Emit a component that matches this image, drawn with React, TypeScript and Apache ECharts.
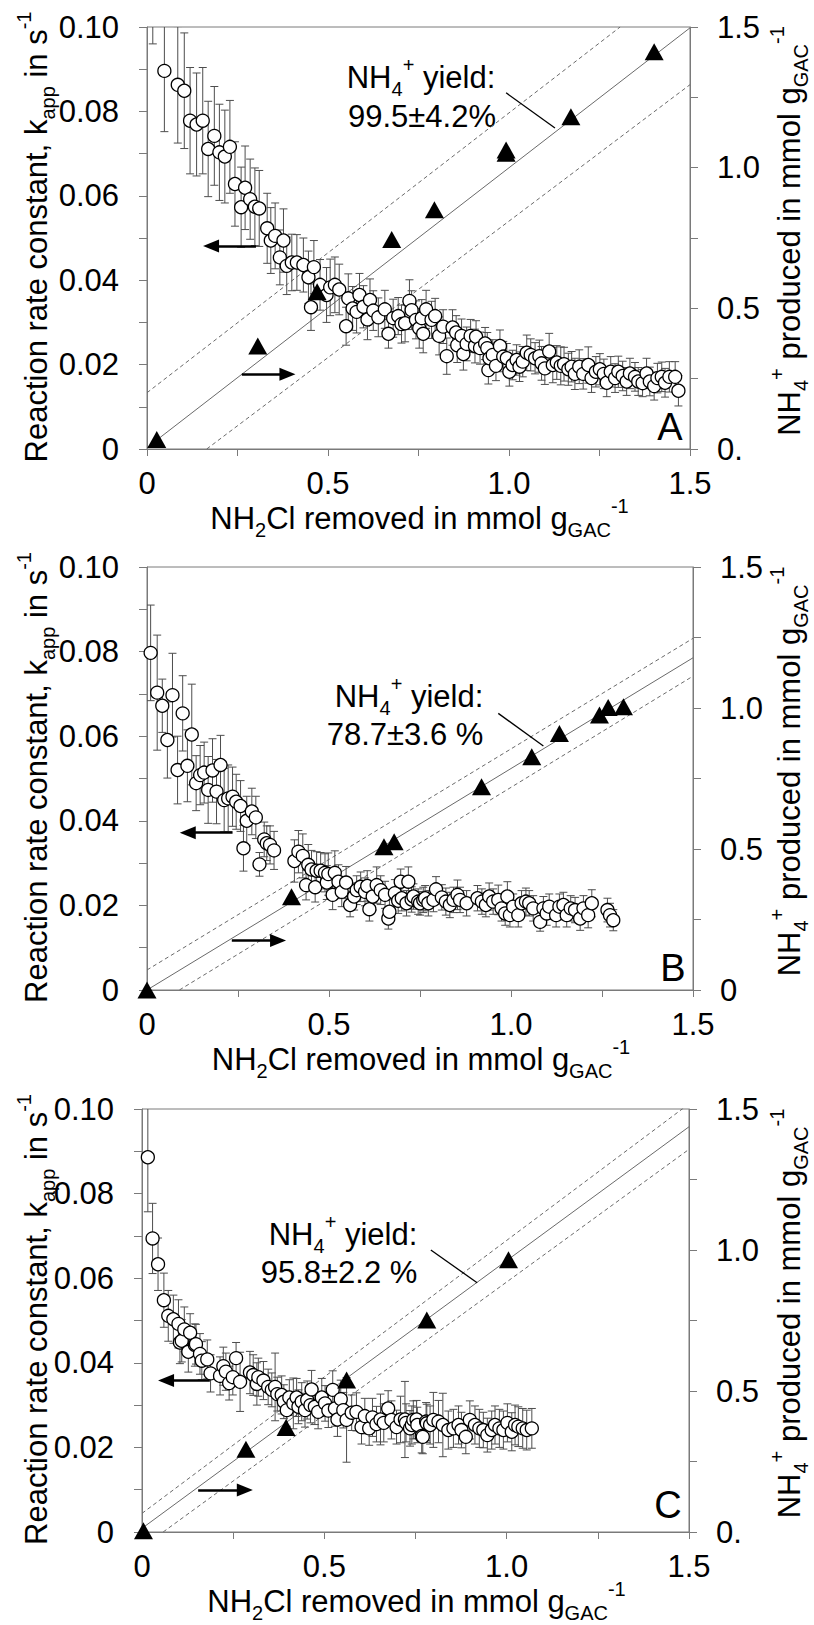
import React, { useEffect, useRef } from 'react';
import * as echarts from 'echarts';

const FONT = 'Liberation Sans, Arial, sans-serif';
const GRAY = '#7a7a7a';

// ---------- Panel A ----------
// [NH2Cl removed, k_app, error]
const circlesA: number[][] = [
  [0.016, 0.108, 0.012], [0.048, 0.0896, 0.0144], [0.085, 0.0863, 0.0138], [0.103, 0.0849, 0.0137],
  [0.119, 0.0778, 0.0126], [0.137, 0.0769, 0.0122], [0.154, 0.0778, 0.0126], [0.169, 0.0711, 0.0113],
  [0.186, 0.0742, 0.0117], [0.200, 0.0703, 0.0114], [0.215, 0.0693, 0.011], [0.229, 0.0716, 0.011],
  [0.243, 0.0628, 0.01], [0.260, 0.0573, 0.0095], [0.271, 0.0619, 0.0099], [0.285, 0.0592, 0.0095],
  [0.298, 0.0574, 0.0092], [0.310, 0.057, 0.009], [0.332, 0.0523, 0.0083], [0.342, 0.0494, 0.0078],
  [0.354, 0.0505, 0.0078], [0.377, 0.0494, 0.0075], [0.367, 0.0454, 0.0065], [0.386, 0.0434, 0.0068],
  [0.400, 0.0442, 0.0067], [0.414, 0.0442, 0.0066], [0.432, 0.0436, 0.0064], [0.446, 0.0407, 0.0062],
  [0.453, 0.0336, 0.0055], [0.461, 0.0431, 0.0063], [0.478, 0.0389, 0.006], [0.496, 0.0365, 0.0065],
  [0.506, 0.0383, 0.0067], [0.519, 0.0389, 0.0066], [0.531, 0.0378, 0.006], [0.550, 0.0291, 0.0045],
  [0.556, 0.0357, 0.0058], [0.568, 0.0333, 0.0052], [0.579, 0.0325, 0.005], [0.587, 0.0365, 0.0051],
  [0.598, 0.0337, 0.005], [0.609, 0.0307, 0.0048], [0.616, 0.0353, 0.005], [0.625, 0.0328, 0.0047],
  [0.639, 0.0312, 0.0046], [0.657, 0.0331, 0.0045], [0.667, 0.0273, 0.0034], [0.680, 0.031, 0.0045],
  [0.694, 0.0315, 0.0044], [0.703, 0.0296, 0.0045], [0.713, 0.0298, 0.0044], [0.725, 0.0351, 0.005],
  [0.731, 0.0329, 0.0046], [0.743, 0.0306, 0.0045], [0.752, 0.0286, 0.0047], [0.759, 0.031, 0.0044],
  [0.763, 0.0273, 0.0045], [0.771, 0.0331, 0.0045], [0.786, 0.0306, 0.0044], [0.796, 0.0315, 0.0042],
  [0.807, 0.0268, 0.0045], [0.818, 0.029, 0.004], [0.828, 0.022, 0.0043], [0.844, 0.0288, 0.0042],
  [0.854, 0.0276, 0.004], [0.857, 0.0246, 0.0041], [0.869, 0.0268, 0.004], [0.874, 0.0225, 0.0038],
  [0.883, 0.0249, 0.004], [0.894, 0.0268, 0.0039], [0.906, 0.0244, 0.004], [0.909, 0.0266, 0.0038],
  [0.920, 0.0239, 0.0038], [0.934, 0.025, 0.0038], [0.940, 0.0239, 0.0037], [0.943, 0.0187, 0.0033],
  [0.946, 0.0215, 0.0036], [0.955, 0.0223, 0.0036], [0.964, 0.0197, 0.0035], [0.975, 0.0244, 0.0038],
  [0.984, 0.0219, 0.0036], [0.994, 0.0215, 0.0035], [1.001, 0.0183, 0.0034], [1.010, 0.0199, 0.0035],
  [1.021, 0.0211, 0.0036], [1.029, 0.0195, 0.0035], [1.038, 0.0207, 0.0036], [1.049, 0.0228, 0.0042],
  [1.060, 0.0223, 0.0038], [1.072, 0.0215, 0.0037], [1.084, 0.022, 0.0038], [1.090, 0.0203, 0.004],
  [1.099, 0.0191, 0.0038], [1.111, 0.0231, 0.0043], [1.121, 0.0199, 0.0042], [1.132, 0.0205, 0.004],
  [1.143, 0.0197, 0.0045], [1.152, 0.0201, 0.004], [1.164, 0.0189, 0.0038], [1.173, 0.0195, 0.0036],
  [1.182, 0.0178, 0.0037], [1.194, 0.0195, 0.004], [1.205, 0.0178, 0.0036], [1.219, 0.0199, 0.0043],
  [1.228, 0.0168, 0.0034], [1.240, 0.0183, 0.0036], [1.251, 0.0189, 0.0037], [1.262, 0.0178, 0.0035],
  [1.270, 0.0157, 0.0033], [1.281, 0.0183, 0.0036], [1.293, 0.0168, 0.0034], [1.302, 0.0183, 0.0037],
  [1.314, 0.0173, 0.0035], [1.325, 0.016, 0.0033], [1.334, 0.0179, 0.0036], [1.348, 0.0171, 0.0034],
  [1.357, 0.016, 0.0033], [1.369, 0.0156, 0.0032], [1.380, 0.0179, 0.0036], [1.389, 0.016, 0.0034],
  [1.401, 0.0149, 0.0033], [1.410, 0.0168, 0.0035], [1.422, 0.0171, 0.0035], [1.431, 0.0157, 0.0034],
  [1.443, 0.0171, 0.0036], [1.459, 0.0171, 0.0036], [1.468, 0.0138, 0.0036],
];
// [NH2Cl removed, NH4+ produced]
const trianglesA: number[][] = [
  [0.027, 0.034], [0.306, 0.366], [0.47, 0.559], [0.676, 0.745], [0.794, 0.85],
  [0.992, 1.063], [0.992, 1.051], [1.171, 1.181], [1.401, 1.412],
];
const fitA: number[][] = [[0, 0.005], [1.5, 1.497]];
const upperA: number[][] = [[0, 0.2], [1.307, 1.5]];
const lowerA: number[][] = [[0.165, 0], [1.5, 1.295]];
const leaderA: number[][] = [[0.992, 1.266], [1.127, 1.141]];
const arrowsA: number[][][] = [[[0.301, 0.0481], [0.177, 0.0481]], [[0.262, 0.0177], [0.388, 0.0177]]];

// ---------- Panel B ----------
const circlesB: number[][] = [
  [0.010, 0.0797, 0.0113], [0.028, 0.0703, 0.0136], [0.042, 0.0672, 0.0063], [0.056, 0.0591, 0.009],
  [0.070, 0.0697, 0.0099], [0.084, 0.052, 0.008], [0.098, 0.0654, 0.0089], [0.111, 0.053, 0.0085],
  [0.123, 0.0604, 0.0119], [0.135, 0.0489, 0.0065], [0.146, 0.0508, 0.007], [0.157, 0.0514, 0.0072],
  [0.168, 0.0473, 0.0079], [0.180, 0.0519, 0.0075], [0.191, 0.0469, 0.0076], [0.202, 0.0532, 0.007],
  [0.212, 0.0449, 0.0075], [0.223, 0.0453, 0.0079], [0.235, 0.0457, 0.007], [0.245, 0.0445, 0.0065],
  [0.257, 0.0435, 0.006], [0.265, 0.0335, 0.0054], [0.274, 0.04, 0.0058], [0.288, 0.0422, 0.0055],
  [0.299, 0.0408, 0.005], [0.309, 0.0297, 0.0028], [0.322, 0.0356, 0.0041], [0.329, 0.0347, 0.0041],
  [0.338, 0.0343, 0.0045], [0.349, 0.033, 0.0045], [0.405, 0.0305, 0.005], [0.416, 0.0327, 0.005],
  [0.428, 0.0317, 0.0052], [0.437, 0.0248, 0.0035], [0.443, 0.0296, 0.0048], [0.452, 0.0285, 0.0045],
  [0.462, 0.0243, 0.0035], [0.466, 0.0282, 0.0045], [0.477, 0.0282, 0.0043], [0.489, 0.0277, 0.0045],
  [0.494, 0.0254, 0.004], [0.498, 0.0274, 0.005], [0.510, 0.0225, 0.0035], [0.516, 0.0277, 0.0052],
  [0.526, 0.0256, 0.004], [0.535, 0.0232, 0.0035], [0.547, 0.0254, 0.0038], [0.558, 0.0201, 0.0028],
  [0.569, 0.0221, 0.0032], [0.576, 0.0236, 0.0034], [0.587, 0.0244, 0.0035], [0.599, 0.0232, 0.0033],
  [0.605, 0.0246, 0.0036], [0.611, 0.0191, 0.0028], [0.620, 0.0221, 0.0032], [0.631, 0.0248, 0.0043],
  [0.642, 0.0236, 0.0034], [0.654, 0.0225, 0.0032], [0.663, 0.0169, 0.0025], [0.666, 0.0185, 0.0028],
  [0.681, 0.0229, 0.0032], [0.690, 0.0211, 0.003], [0.697, 0.0256, 0.003], [0.700, 0.0217, 0.003],
  [0.713, 0.0205, 0.003], [0.718, 0.0256, 0.0035], [0.727, 0.0214, 0.003], [0.732, 0.0221, 0.003],
  [0.745, 0.0209, 0.003], [0.750, 0.0205, 0.0028], [0.759, 0.0213, 0.003], [0.764, 0.0217, 0.003],
  [0.773, 0.0205, 0.003], [0.787, 0.0213, 0.0028], [0.794, 0.0238, 0.003], [0.810, 0.0219, 0.003],
  [0.821, 0.0209, 0.0032], [0.832, 0.0201, 0.003], [0.842, 0.0213, 0.003], [0.853, 0.0225, 0.0035],
  [0.860, 0.0213, 0.003], [0.878, 0.0205, 0.003], [0.908, 0.0217, 0.003], [0.920, 0.0209, 0.003],
  [0.931, 0.0201, 0.0028], [0.940, 0.0221, 0.0032], [0.951, 0.0209, 0.003], [0.965, 0.0213, 0.0035],
  [0.974, 0.0193, 0.003], [0.984, 0.0181, 0.0028], [0.990, 0.0221, 0.0035], [0.997, 0.0177, 0.0028],
  [1.006, 0.0197, 0.003], [1.020, 0.0177, 0.0028], [1.029, 0.0205, 0.003], [1.041, 0.0209, 0.0032],
  [1.050, 0.0205, 0.003], [1.061, 0.0193, 0.003], [1.080, 0.0161, 0.0022], [1.089, 0.0193, 0.0028],
  [1.098, 0.0181, 0.0028], [1.105, 0.0197, 0.003], [1.124, 0.0177, 0.0028], [1.133, 0.0197, 0.003],
  [1.144, 0.0201, 0.003], [1.153, 0.0177, 0.0028], [1.164, 0.0193, 0.003], [1.176, 0.0189, 0.003],
  [1.190, 0.0169, 0.0028], [1.199, 0.0193, 0.003], [1.212, 0.0177, 0.003], [1.222, 0.0205, 0.0032],
  [1.265, 0.0189, 0.0028], [1.272, 0.0177, 0.0028], [1.281, 0.0165, 0.0025],
];
const trianglesB: number[][] = [
  [0, 0], [0.397, 0.331], [0.651, 0.508], [0.679, 0.526], [0.919, 0.721],
  [1.057, 0.827], [1.133, 0.91], [1.243, 0.975], [1.267, 1.002], [1.309, 1.004],
];
const fitB: number[][] = [[0, 0], [1.5, 1.178]];
const upperB: number[][] = [[0, 0.071], [1.5, 1.247]];
const lowerB: number[][] = [[0.089, 0], [1.5, 1.113]];
const leaderB: number[][] = [[0.965, 0.981], [1.089, 0.865]];
const arrowsB: number[][][] = [[[0.235, 0.0372], [0.112, 0.0372]], [[0.233, 0.0117], [0.36, 0.0117]]];

// ---------- Panel C ----------
const circlesC: number[][] = [
  [0.016, 0.0886, 0.0129], [0.029, 0.0694, 0.0083], [0.044, 0.0633, 0.0062], [0.060, 0.0548, 0.0064],
  [0.072, 0.0511, 0.006], [0.086, 0.0503, 0.0057], [0.100, 0.0492, 0.0057], [0.104, 0.0448, 0.005],
  [0.109, 0.0452, 0.005], [0.116, 0.0479, 0.0053], [0.127, 0.0426, 0.0048], [0.132, 0.0471, 0.0045],
  [0.145, 0.0442, 0.005], [0.148, 0.0444, 0.0047], [0.159, 0.0421, 0.0048], [0.164, 0.0405, 0.0045],
  [0.179, 0.0408, 0.0046], [0.188, 0.0375, 0.0044], [0.214, 0.0369, 0.0045], [0.223, 0.0392, 0.0045],
  [0.230, 0.0379, 0.0044], [0.239, 0.0352, 0.004], [0.249, 0.0366, 0.0042], [0.258, 0.0411, 0.0037],
  [0.269, 0.0355, 0.007], [0.296, 0.0377, 0.005], [0.305, 0.0371, 0.0048], [0.315, 0.035, 0.005],
  [0.319, 0.0366, 0.0045], [0.333, 0.0358, 0.0045], [0.346, 0.0343, 0.0042], [0.356, 0.0336, 0.004],
  [0.365, 0.0343, 0.008], [0.371, 0.0326, 0.004], [0.383, 0.0324, 0.0045], [0.389, 0.0308, 0.004],
  [0.397, 0.0288, 0.0038], [0.404, 0.0318, 0.0042], [0.415, 0.0304, 0.006], [0.424, 0.0318, 0.0045],
  [0.429, 0.0296, 0.004], [0.438, 0.0308, 0.0045], [0.447, 0.0288, 0.004], [0.453, 0.0312, 0.0045],
  [0.462, 0.03, 0.0042], [0.465, 0.0337, 0.0045], [0.474, 0.0296, 0.0042], [0.483, 0.0284, 0.004],
  [0.493, 0.0318, 0.0045], [0.502, 0.0304, 0.0042], [0.511, 0.0287, 0.004], [0.523, 0.0336, 0.0045],
  [0.529, 0.0292, 0.0042], [0.536, 0.0266, 0.004], [0.545, 0.0314, 0.0045], [0.552, 0.0288, 0.0042],
  [0.561, 0.0265, 0.01], [0.575, 0.0282, 0.0042], [0.588, 0.0284, 0.0045], [0.602, 0.0248, 0.004],
  [0.611, 0.0274, 0.0042], [0.623, 0.0245, 0.004], [0.632, 0.0271, 0.0045], [0.643, 0.0255, 0.0042],
  [0.654, 0.0266, 0.006], [0.663, 0.0258, 0.0045], [0.675, 0.0292, 0.0042], [0.684, 0.0265, 0.0045],
  [0.698, 0.0248, 0.004], [0.709, 0.0266, 0.0055], [0.721, 0.0266, 0.009], [0.724, 0.0258, 0.0045],
  [0.735, 0.0245, 0.0042], [0.740, 0.0253, 0.0045], [0.744, 0.0265, 0.0045], [0.753, 0.0266, 0.0045],
  [0.755, 0.0253, 0.0042], [0.767, 0.0227, 0.004], [0.770, 0.0225, 0.004], [0.779, 0.0261, 0.0045],
  [0.781, 0.0257, 0.0045], [0.790, 0.0253, 0.0045], [0.799, 0.0265, 0.0065], [0.813, 0.0261, 0.005],
  [0.825, 0.0253, 0.0075], [0.840, 0.0241, 0.0045], [0.854, 0.0245, 0.0045], [0.868, 0.0253, 0.0045],
  [0.876, 0.0241, 0.0042], [0.888, 0.0225, 0.004], [0.899, 0.0265, 0.0045], [0.913, 0.0253, 0.0045],
  [0.925, 0.0245, 0.0045], [0.936, 0.0241, 0.0042], [0.947, 0.0229, 0.004], [0.959, 0.0241, 0.0045],
  [0.968, 0.0253, 0.0045], [0.980, 0.0245, 0.0045], [0.991, 0.0241, 0.0045], [1.002, 0.0258, 0.0045],
  [1.014, 0.0237, 0.0045], [1.023, 0.0253, 0.0047], [1.032, 0.0249, 0.0047], [1.044, 0.0245, 0.0047],
  [1.055, 0.0241, 0.0047], [1.069, 0.0245, 0.0047],
];
const trianglesC: number[][] = [
  [0.004, 0.004], [0.285, 0.293], [0.395, 0.371], [0.561, 0.539], [0.781, 0.752], [1.005, 0.965],
];
const fitC: number[][] = [[0, 0.013], [1.5, 1.437]];
const upperC: number[][] = [[0, 0.066], [1.5, 1.518]];
const lowerC: number[][] = [[0.058, 0], [1.5, 1.357]];
const leaderC: number[][] = [[0.792, 1.0], [0.919, 0.884]];
const arrowsC: number[][][] = [[[0.186, 0.0358], [0.066, 0.0358]], [[0.154, 0.0099], [0.282, 0.0099]]];

// tick label texts
const rightZeroLabels = ['0.', '0', '0.'];
const yieldTexts = ['99.5±4.2%', '78.7±3.6 %', '95.8±2.2 %'];
const panelLetters = ['A', 'B', 'C'];

const panels = [
  {
    grid: { left: 147, top: 27, width: 543, height: 422 },
    circles: circlesA, tri: trianglesA, fit: fitA, upper: upperA, lower: lowerA, leader: leaderA, arrows: arrowsA,
    letterPos: [670, 427], ann1: [421, 77], ann2: [422, 116],
  },
  {
    grid: { left: 147, top: 567, width: 546, height: 423 },
    circles: circlesB, tri: trianglesB, fit: fitB, upper: upperB, lower: lowerB, leader: leaderB, arrows: arrowsB,
    letterPos: [673, 968], ann1: [409, 696], ann2: [405, 734],
  },
  {
    grid: { left: 142, top: 1109, width: 547, height: 423 },
    circles: circlesC, tri: trianglesC, fit: fitC, upper: upperC, lower: lowerC, leader: leaderC, arrows: arrowsC,
    letterPos: [668, 1505], ann1: [343, 1234], ann2: [339, 1272],
  },
];

const richStyles = {
  t: { fontSize: 31, lineHeight: 44, verticalAlign: 'middle', fontFamily: FONT, fill: '#000', color: '#000' },
  s: { fontSize: 20, lineHeight: 22, verticalAlign: 'bottom', fontFamily: FONT, fill: '#000', color: '#000' },
  p: { fontSize: 20, lineHeight: 22, verticalAlign: 'top', fontFamily: FONT, fill: '#000', color: '#000' },
};

function richText(text: string, x: number, y: number, rotation = 0) {
  return {
    type: 'text',
    x, y, rotation,
    silent: true,
    style: {
      text,
      rich: richStyles,
      fontSize: 31, fontFamily: FONT, fill: '#000',
      align: 'center', verticalAlign: 'middle',
      textAlign: 'center', textVerticalAlign: 'middle',
    },
  };
}

function buildOption() {
  const xAxis: any[] = [];
  const yAxis: any[] = [];
  const grid: any[] = [];
  const series: any[] = [];
  const graphic: any[] = [];

  const axisLine = { show: true, lineStyle: { color: GRAY, width: 1 } };
  const axisLabelBase = { color: '#000', fontSize: 31, fontFamily: FONT };

  panels.forEach((p, i) => {
    grid.push({ ...p.grid, show: true, borderColor: GRAY, borderWidth: 1, containLabel: false });
    xAxis.push({
      gridIndex: i, type: 'value', min: 0, max: 1.5, interval: 0.5,
      axisLine, splitLine: { show: false },
      axisTick: { show: true, inside: false, length: 7, lineStyle: { color: GRAY } },
      minorTick: { show: true, splitNumber: 2, length: 7, lineStyle: { color: GRAY } },
      axisLabel: { ...axisLabelBase, margin: 19, formatter: (v: number) => (v === 0 ? '0' : v.toFixed(1)) },
    });
    yAxis.push({
      gridIndex: i, type: 'value', position: 'left', min: 0, max: 0.1, interval: 0.02,
      axisLine, splitLine: { show: false },
      axisTick: { show: true, inside: false, length: 8, lineStyle: { color: GRAY } },
      minorTick: { show: true, splitNumber: 2, length: 8, lineStyle: { color: GRAY } },
      axisLabel: { ...axisLabelBase, margin: 28, formatter: (v: number) => (v === 0 ? '0' : v.toFixed(2)) },
    });
    yAxis.push({
      gridIndex: i, type: 'value', position: 'right', min: 0, max: 1.5, interval: 0.5,
      axisLine, splitLine: { show: false },
      axisTick: { show: true, inside: false, length: 8, lineStyle: { color: GRAY } },
      minorTick: { show: true, splitNumber: 2, length: 8, lineStyle: { color: GRAY } },
      axisLabel: {
        ...axisLabelBase, margin: 27, align: 'left',
        formatter: (v: number) => (v === 0 ? rightZeroLabels[i] : v.toFixed(1)),
      },
    });
    const L = 2 * i;
    const R = 2 * i + 1;

    const lineCommon = { type: 'line', xAxisIndex: i, yAxisIndex: R, showSymbol: false, symbol: 'none', clip: true, silent: true, z: 1 };
    series.push({ ...lineCommon, data: p.fit, lineStyle: { color: '#6a6a6a', width: 1 } });
    series.push({ ...lineCommon, data: p.upper, lineStyle: { color: '#6a6a6a', width: 1, type: [4, 3] } });
    series.push({ ...lineCommon, data: p.lower, lineStyle: { color: '#6a6a6a', width: 1, type: [4, 3] } });

    series.push({
      type: 'custom', xAxisIndex: i, yAxisIndex: L, clip: true, silent: true, z: 2,
      data: p.circles,
      encode: { x: 0, y: 1 },
      renderItem: (params: any, api: any) => {
        const x = api.value(0), y = api.value(1), e = api.value(2);
        const t = api.coord([x, y + e]);
        const b = api.coord([x, y - e]);
        const hw = 4;
        const st = { stroke: '#4d4d4d', lineWidth: 1 };
        return {
          type: 'group',
          children: [
            { type: 'line', shape: { x1: t[0], y1: t[1], x2: b[0], y2: b[1] }, style: st },
            { type: 'line', shape: { x1: t[0] - hw, y1: t[1], x2: t[0] + hw, y2: t[1] }, style: st },
            { type: 'line', shape: { x1: b[0] - hw, y1: b[1], x2: b[0] + hw, y2: b[1] }, style: st },
          ],
        };
      },
    });

    series.push({
      type: 'scatter', xAxisIndex: i, yAxisIndex: L, z: 3, clip: true, silent: true,
      data: p.circles.map((d) => [d[0], d[1]]),
      symbol: 'circle', symbolSize: 13,
      itemStyle: { color: '#fff', borderColor: '#000', borderWidth: 1.3, opacity: 1 },
      markLine: {
        silent: true, symbol: ['none', 'triangle'], symbolSize: [13, 16], precision: 4,
        lineStyle: { color: '#000', width: 2.5, type: 'solid' },
        label: { show: false },
        emphasis: { disabled: true },
        data: p.arrows.map((a) => [{ coord: a[0] }, { coord: a[1] }]),
      },
    });

    series.push({
      type: 'scatter', xAxisIndex: i, yAxisIndex: R, z: 4, clip: true, silent: true,
      data: p.tri, symbol: 'triangle', symbolSize: [19, 17],
      itemStyle: { color: '#000', opacity: 1 },
    });

    series.push({
      type: 'line', xAxisIndex: i, yAxisIndex: R, showSymbol: false, symbol: 'none', silent: true, z: 5,
      data: p.leader, lineStyle: { color: '#000', width: 1.3 },
    });

    const g = p.grid;
    const cx = g.left + g.width / 2;
    const cy = g.top + g.height / 2;
    graphic.push(richText('{t|Reaction rate constant, k}{s|app}{t| in s}{p|-1}', 36, cy - 1, Math.PI / 2));
    graphic.push(richText('{t|NH}{s|4}{p|+}{t| produced in mmol g}{s|GAC}{p|-1}', 789, cy - 7, Math.PI / 2));
    graphic.push(richText('{t|NH}{s|2}{t|Cl removed in mmol g}{s|GAC}{p|-1}', cx + 1, g.top + g.height + 69));
    graphic.push(richText('{t|NH}{s|4}{p|+}{t| yield:}', p.ann1[0], p.ann1[1]));
    graphic.push(richText('{t|' + yieldTexts[i] + '}', p.ann2[0], p.ann2[1]));
    graphic.push({
      type: 'text', x: p.letterPos[0], y: p.letterPos[1], silent: true,
      style: {
        text: panelLetters[i], fontSize: 38, fontFamily: FONT, fill: '#000',
        align: 'center', verticalAlign: 'middle', textAlign: 'center', textVerticalAlign: 'middle',
      },
    });
  });

  return {
    animation: false,
    backgroundColor: '#fff',
    textStyle: { fontFamily: FONT },
    grid, xAxis, yAxis, series, graphic,
  };
}

export default function App() {
  const ref = useRef<HTMLDivElement>(null);
  useEffect(() => {
    const chart = echarts.init(ref.current!, undefined, { renderer: 'svg' });
    chart.setOption(buildOption() as any);
    return () => chart.dispose();
  }, []);
  return (
    <div
      ref={ref}
      style={{ position: 'absolute', left: 0, top: 0, width: 814, height: 1625, background: '#fff' }}
    />
  );
}
